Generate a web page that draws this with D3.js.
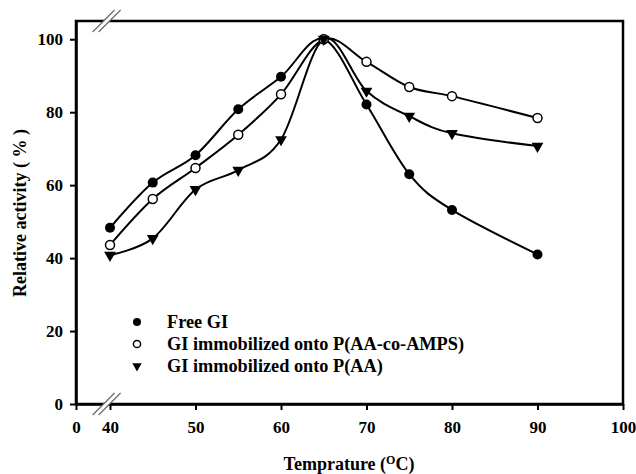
<!DOCTYPE html>
<html>
<head>
<meta charset="utf-8">
<script src="https://cdn.jsdelivr.net/npm/d3@7"></script>
<style>
  html, body { margin: 0; padding: 0; background: #fff; }
  svg { display: block; }
  text { font-family: "Liberation Serif", "Times New Roman", serif; font-weight: bold; fill: #000; }
</style>
</head>
<body>
<svg id="chart" width="636" height="474"></svg>
<script>
// Temperature profile of glucose isomerase activity
const temps = [40, 45, 50, 55, 60, 65, 70, 75, 80, 90];
const freeGI = [48.3, 60.7, 68.2, 80.8, 89.7, 100, 82.1, 63.0, 53.2, 41.0];
const giAaAmps = [43.6, 56.2, 64.7, 73.8, 84.9, 100, 93.8, 86.9, 84.4, 78.4];
const giAa = [40.8, 45.4, 58.8, 64.1, 72.5, 100, 85.8, 78.9, 74.2, 70.7];

const xTicks = [0, 40, 50, 60, 70, 80, 90, 100];
const yTicks = [0, 20, 40, 60, 80, 100];

const seriesNames = ["Free GI", "GI immobilized onto P(AA-co-AMPS)", "GI immobilized onto P(AA)"];

const svg = d3.select("#chart");
const plotL = 76, plotR = 623, plotT = 21, plotB = 404;

// broken x axis: 0 sits just before the 40–100 range
const x = d3.scaleLinear().domain([0, 40, 100]).range([plotL, 110, plotR]);
const y = d3.scaleLinear().domain([0, 105]).range([plotB, plotT]);

// frame
svg.append("rect")
  .attr("x", plotL).attr("y", plotT)
  .attr("width", plotR - plotL).attr("height", plotB - plotT)
  .attr("fill", "none").attr("stroke", "#000").attr("stroke-width", 2.5);

// axes
const xAxis = svg.append("g")
  .attr("transform", `translate(0,${plotB})`)
  .call(d3.axisBottom(x).tickValues(xTicks).tickSize(6).tickSizeOuter(0).tickPadding(8));
const yAxis = svg.append("g")
  .attr("transform", `translate(${plotL},0)`)
  .call(d3.axisLeft(y).tickValues(yTicks).tickSize(6).tickSizeOuter(0).tickPadding(7));

[xAxis, yAxis].forEach(g => {
  g.select(".domain").attr("stroke", "#000").attr("stroke-width", 2.5);
  g.selectAll(".tick line").attr("stroke", "#000").attr("stroke-width", 2);
  g.selectAll(".tick text")
    .style("font-family", '"Liberation Serif", "Times New Roman", serif')
    .style("font-weight", "bold").style("font-size", "17px").attr("fill", "#000");
});
xAxis.selectAll(".tick text").attr("dy", "0.9em");

// axis break marks on bottom and top spines
function breakMark(cx, cy) {
  const g = svg.append("g");
  const dx = 11, dy = 11, gap = 6;
  g.append("polygon")
    .attr("points", [
      [cx - dx - gap / 2, cy + dy], [cx + dx - gap / 2, cy - dy],
      [cx + dx + gap / 2, cy - dy], [cx - dx + gap / 2, cy + dy]
    ].map(p => p.join(",")).join(" "))
    .attr("fill", "#fff");
  [-gap / 2, gap / 2].forEach(o => {
    g.append("line")
      .attr("x1", cx - dx + o).attr("y1", cy + dy)
      .attr("x2", cx + dx + o).attr("y2", cy - dy)
      .attr("stroke", "#666").attr("stroke-width", 1.2);
  });
}
breakMark(x(36), plotB);
breakMark(x(36), plotT);

// axis titles
const xt = svg.append("text")
  .attr("x", 349).attr("y", 470)
  .attr("text-anchor", "middle").style("font-size", "18px");
xt.append("tspan").text("Temprature (");
xt.append("tspan").attr("dy", -6).style("font-size", "12px").text("O");
xt.append("tspan").attr("dy", 6).text("C)");

svg.append("text")
  .attr("transform", `translate(26,213) rotate(-90)`)
  .attr("text-anchor", "middle").style("font-size", "18px")
  .text("Relative activity ( % )");

// smoothed series lines
const line = d3.line()
  .x(d => x(d[0])).y(d => y(d[1]))
  .curve(d3.curveCardinal.tension(0));

const series = [freeGI, giAaAmps, giAa];
series.forEach(vals => {
  svg.append("path")
    .datum(temps.map((t, i) => [t, vals[i]]))
    .attr("d", line)
    .attr("fill", "none").attr("stroke", "#000").attr("stroke-width", 2);
});

const tri = d3.symbol().type(d3.symbolTriangle);

function drawMarker(g, kind, cx, cy, scale) {
  if (kind === 0) {
    g.append("circle").attr("cx", cx).attr("cy", cy).attr("r", 5 * scale).attr("fill", "#000");
  } else if (kind === 1) {
    g.append("circle").attr("cx", cx).attr("cy", cy).attr("r", 4.5 * scale)
      .attr("fill", "#fff").attr("stroke", "#000").attr("stroke-width", 1.5);
  } else {
    g.append("path").attr("d", tri.size(60 * scale * scale)())
      .attr("transform", `translate(${cx},${cy}) rotate(180)`).attr("fill", "#000");
  }
}

const markers = svg.append("g");
series.forEach((vals, k) => {
  temps.forEach((t, i) => drawMarker(markers, k, x(t), y(vals[i]), 1));
});

// legend
const legend = svg.append("g");
const rowsY = [322, 344, 366];
seriesNames.forEach((name, k) => {
  drawMarker(legend, k, 137, rowsY[k], 0.8);
  legend.append("text")
    .attr("x", 167).attr("y", rowsY[k]).attr("dy", "0.35em")
    .style("font-size", "18.3px").text(name);
});
</script>
</body>
</html>
